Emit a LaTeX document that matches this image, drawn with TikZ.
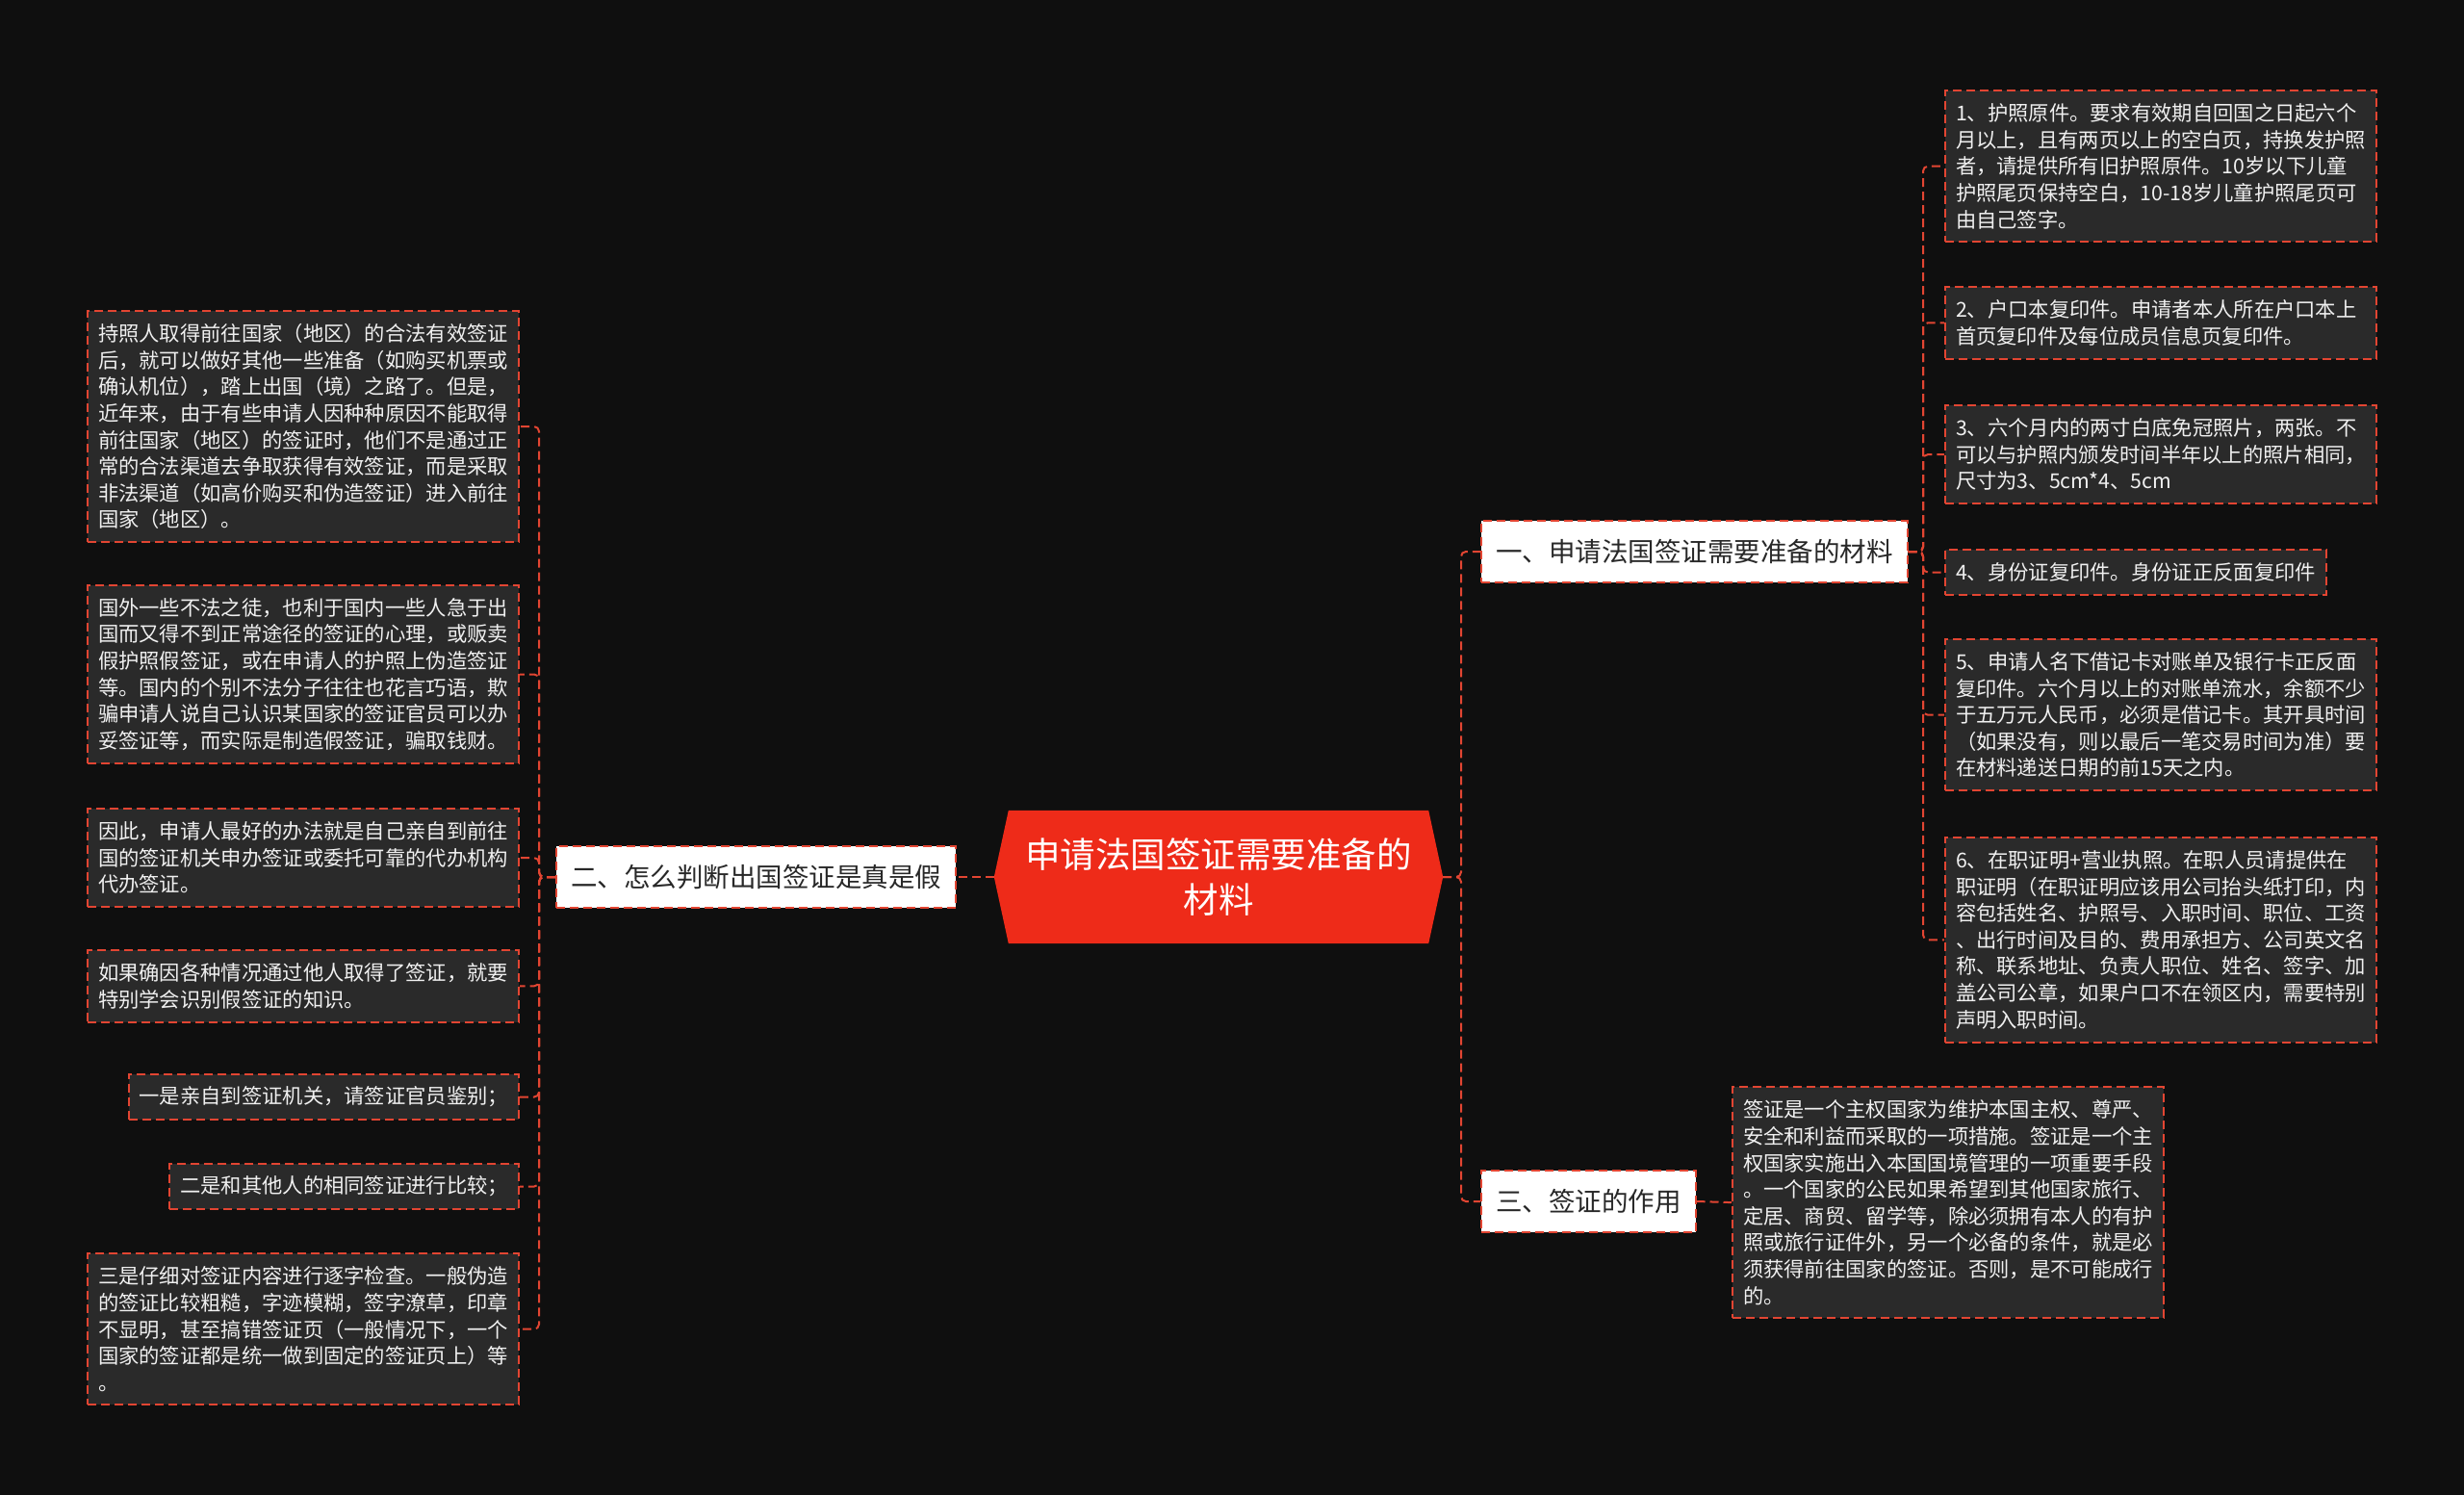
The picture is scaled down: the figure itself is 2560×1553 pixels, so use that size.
\documentclass[tikz,border=0pt]{standalone}
\usepackage{fontspec}
\newfontfamily\cjk{Noto Sans CJK SC}
\usetikzlibrary{backgrounds}
\definecolor{bgc}{RGB}{15,15,15}
\definecolor{dred}{RGB}{226,69,50}
\definecolor{cred}{RGB}{238,43,25}
\definecolor{leaffill}{RGB}{42,42,42}
\definecolor{leaftext}{RGB}{240,240,240}
\definecolor{btext}{RGB}{40,40,40}
\begin{document}
\begin{tikzpicture}[x=1pt,y=-1pt,
  dashline/.style={draw=dred, line width=2pt, dash pattern=on 9pt off 5pt},
  leaf/.style={dashline, fill=leaffill, text=leaftext, font=\cjk\fontsize{21.3}{27.6}\selectfont, align=left, inner xsep=11pt, inner ysep=0pt},
  wide/.style={text width=426pt},
  nl/.style={minimum height={47+27.6*(#1-1)}},
  branch/.style={dashline, fill=white, text=btext, font=\cjk\fontsize{27.5}{33}\selectfont, inner xsep=15pt, inner ysep=0pt, minimum height=64pt},
  center/.style={text=white, font=\cjk\fontsize{36.5}{47}\selectfont, align=center, minimum width=466pt, minimum height=138pt, inner sep=0pt},
  conn/.style={dashline, rounded corners=5pt}]
\begin{scope}[on background layer]
\fill[bgc] (0,0) rectangle (2560,1553);
\end{scope}
\useasboundingbox (0,0) rectangle (2560,1553);

% center
\node[center] (c) at (1266,911) {申请法国签证需要准备的\\材料};
\begin{scope}[on background layer]
\fill[cred] (c.west) -- ([xshift=15pt]c.north west) -- ([xshift=-15pt]c.north east) -- (c.east) -- ([xshift=-15pt]c.south east) -- ([xshift=15pt]c.south west) -- cycle;
\end{scope}

% branches
\node[branch, anchor=west] (b1) at (1538,573) {一、申请法国签证需要准备的材料};
\node[branch, anchor=east] (b2) at (994,911) {二、怎么判断出国签证是真是假};
\node[branch, anchor=west] (b3) at (1538,1248) {三、签证的作用};

% right leaves
\node[leaf, wide, nl=5, anchor=north west] (r1) at (2020,93) {1、护照原件。要求有效期自回国之日起六个\\月以上，且有两页以上的空白页，持换发护照\\者，请提供所有旧护照原件。10岁以下儿童\\护照尾页保持空白，10-18岁儿童护照尾页可\\由自己签字。};
\node[leaf, wide, nl=2, anchor=north west] (r2) at (2020,297) {2、户口本复印件。申请者本人所在户口本上\\首页复印件及每位成员信息页复印件。};
\node[leaf, wide, nl=3, anchor=north west] (r3) at (2020,420) {3、六个月内的两寸白底免冠照片，两张。不\\可以与护照内颁发时间半年以上的照片相同，\\尺寸为3、5cm*4、5cm};
\node[leaf, nl=1, anchor=north west] (r4) at (2020,570) {4、身份证复印件。身份证正反面复印件};
\node[leaf, wide, nl=5, anchor=north west] (r5) at (2020,663) {5、申请人名下借记卡对账单及银行卡正反面\\复印件。六个月以上的对账单流水，余额不少\\于五万元人民币，必须是借记卡。其开具时间\\（如果没有，则以最后一笔交易时间为准）要\\在材料递送日期的前15天之内。};
\node[leaf, wide, nl=7, anchor=north west] (r6) at (2020,869) {6、在职证明+营业执照。在职人员请提供在\\职证明（在职证明应该用公司抬头纸打印，内\\容包括姓名、护照号、入职时间、职位、工资\\、出行时间及目的、费用承担方、公司英文名\\称、联系地址、负责人职位、姓名、签字、加\\盖公司公章，如果户口不在领区内，需要特别\\声明入职时间。};
\node[leaf, wide, nl=8, anchor=north west] (r7) at (1799,1128) {签证是一个主权国家为维护本国主权、尊严、\\安全和利益而采取的一项措施。签证是一个主\\权国家实施出入本国国境管理的一项重要手段\\。一个国家的公民如果希望到其他国家旅行、\\定居、商贸、留学等，除必须拥有本人的有护\\照或旅行证件外，另一个必备的条件，就是必\\须获得前往国家的签证。否则，是不可能成行\\的。};

% left leaves
\node[leaf, wide, nl=8, anchor=north east] (l1) at (540,322) {持照人取得前往国家（地区）的合法有效签证\\后，就可以做好其他一些准备（如购买机票或\\确认机位），踏上出国（境）之路了。但是，\\近年来，由于有些申请人因种种原因不能取得\\前往国家（地区）的签证时，他们不是通过正\\常的合法渠道去争取获得有效签证，而是采取\\非法渠道（如高价购买和伪造签证）进入前往\\国家（地区）。};
\node[leaf, wide, nl=6, anchor=north east] (l2) at (540,607) {国外一些不法之徒，也利于国内一些人急于出\\国而又得不到正常途径的签证的心理，或贩卖\\假护照假签证，或在申请人的护照上伪造签证\\等。国内的个别不法分子往往也花言巧语，欺\\骗申请人说自己认识某国家的签证官员可以办\\妥签证等，而实际是制造假签证，骗取钱财。};
\node[leaf, wide, nl=3, anchor=north east] (l3) at (540,839) {因此，申请人最好的办法就是自己亲自到前往\\国的签证机关申办签证或委托可靠的代办机构\\代办签证。};
\node[leaf, wide, nl=2, anchor=north east] (l4) at (540,986) {如果确因各种情况通过他人取得了签证，就要\\特别学会识别假签证的知识。};
\node[leaf, nl=1, anchor=north east] (l5) at (540,1115) {一是亲自到签证机关，请签证官员鉴别；};
\node[leaf, nl=1, anchor=north east] (l6) at (540,1208) {二是和其他人的相同签证进行比较；};
\node[leaf, wide, nl=5, anchor=north east] (l7) at (540,1301) {三是仔细对签证内容进行逐字检查。一般伪造\\的签证比较粗糙，字迹模糊，签字潦草，印章\\不显明，甚至搞错签证页（一般情况下，一个\\国家的签证都是统一做到固定的签证页上）等\\。};

% spines
\coordinate (sC) at (1518,911);
\coordinate (sR) at (1998,0);
\coordinate (sL) at (560,0);

% connectors
\foreach \t in {b1,b3} \draw[conn] (c.east) -- (c.east -| sC) |- (\t.west);
\draw[conn] (c.west) -- (b2.east);
\foreach \i in {1,...,6} \draw[conn] (b1.east) -- (b1.east -| sR) |- (r\i.west);
\foreach \i in {1,...,7} \draw[conn] (b2.west) -- (b2.west -| sL) |- (l\i.east);
\draw[conn] (b3.east) -- (r7.west);
\end{tikzpicture}
\end{document}
